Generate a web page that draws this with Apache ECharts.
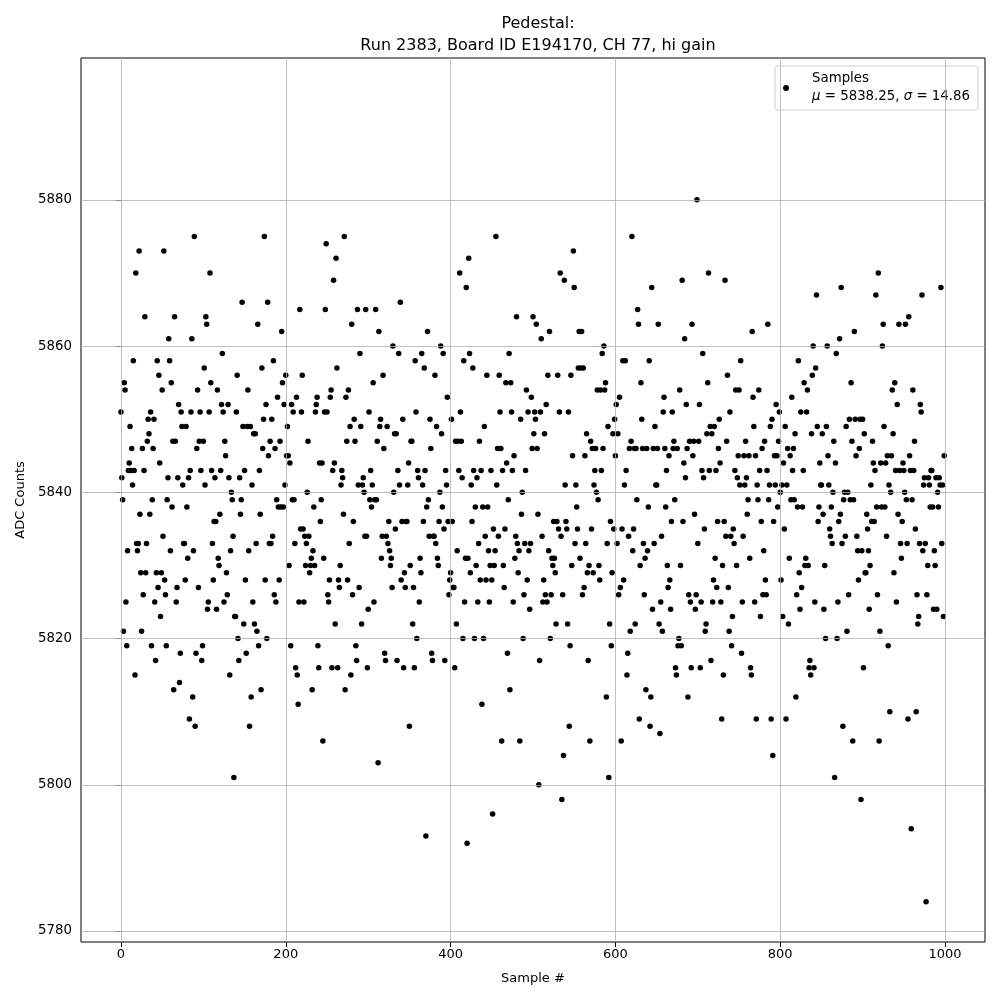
<!DOCTYPE html>
<html>
<head>
<meta charset="utf-8">
<script src="https://cdn.jsdelivr.net/npm/echarts@6/dist/echarts.min.js"></script>
<style>html,body{margin:0;padding:0;background:#fff;}#chart{width:1000px;height:1000px;}</style>
</head>
<body>
<div id="chart"></div>
<script>
const adcCounts = [
5851,5842,5839,5821,5855,5854,5825,5819,5832,5843,5844,5849,5843,5846,5841,5858,5843,5815,5870,5833,5832,5833,5873,5837,5829,
5821,5846,5826,5843,5864,5829,5833,5847,5850,5848,5837,5851,5819,5839,5846,5850,5825,5817,5829,5858,5827,5856,5844,5823,5829,
5854,5834,5873,5828,5826,5819,5839,5842,5861,5858,5832,5855,5838,5847,5813,5864,5847,5825,5827,5842,5852,5814,5818,5851,5849,
5841,5833,5833,5828,5849,5838,5831,5842,5809,5843,5851,5861,5812,5832,5875,5808,5818,5846,5854,5827,5847,5851,5843,5817,5819,
5847,5857,5841,5864,5863,5824,5825,5851,5870,5855,5843,5833,5828,5836,5842,5836,5824,5854,5831,5830,5837,5843,5852,5859,5851,
5825,5847,5845,5829,5826,5852,5842,5815,5832,5840,5839,5834,5801,5823,5823,5851,5856,5820,5817,5842,5837,5839,5866,5849,5822,
5843,5828,5818,5849,5854,5832,5808,5849,5812,5841,5825,5848,5822,5848,5833,5821,5863,5819,5843,5837,5813,5857,5846,5850,5875,
5828,5852,5820,5866,5845,5833,5847,5833,5850,5834,5858,5826,5846,5825,5839,5853,5838,5828,5847,5838,5862,5855,5838,5852,5841,
5856,5845,5849,5845,5830,5844,5819,5852,5839,5851,5839,5833,5816,5853,5815,5811,5825,5865,5835,5851,5856,5835,5825,5834,5830,
5833,5840,5847,5834,5829,5830,5831,5813,5832,5838,5830,5851,5852,5853,5819,5816,5844,5836,5839,5844,5806,5831,5851,5865,5874,
5851,5826,5825,5828,5853,5854,5816,5843,5869,5844,5822,5872,5857,5816,5828,5827,5830,5841,5843,5842,5837,5875,5813,5853,5847,
5828,5854,5833,5849,5815,5863,5826,5836,5850,5847,5819,5817,5865,5841,5827,5859,5849,5822,5841,5842,5840,5834,5865,5834,5816,
5824,5851,5839,5843,5838,5841,5855,5825,5839,5865,5839,5847,5803,5862,5849,5850,5831,5834,5856,5846,5818,5817,5834,5849,5833,
5836,5832,5830,5831,5827,5860,5840,5848,5835,5848,5817,5843,5859,5841,5866,5828,5836,5850,5816,5829,5827,5836,5836,5841,5844,
5808,5830,5847,5847,5822,5827,5816,5858,5851,5820,5843,5842,5825,5831,5829,5859,5841,5836,5857,5843,5793,5838,5862,5839,5834,
5850,5846,5818,5817,5834,5834,5856,5833,5849,5831,5830,5836,5840,5860,5848,5838,5859,5835,5817,5843,5841,5853,5836,5826,5828,
5829,5850,5836,5827,5827,5816,5847,5822,5832,5847,5843,5870,5851,5847,5842,5820,5858,5825,5831,5868,5792,5831,5872,5859,5829,
5841,5836,5857,5843,5820,5838,5830,5842,5825,5833,5847,5828,5843,5811,5838,5820,5849,5834,5828,5856,5838,5832,5825,5830,5843,
5828,5796,5835,5830,5832,5875,5841,5846,5834,5856,5851,5846,5806,5843,5830,5827,5835,5855,5844,5818,5839,5859,5813,5855,5851,
5843,5825,5845,5831,5834,5864,5833,5829,5832,5806,5850,5837,5840,5820,5826,5833,5843,5854,5828,5851,5832,5824,5833,5853,5846,
5864,5848,5851,5850,5863,5846,5837,5800,5817,5851,5861,5834,5825,5828,5848,5826,5852,5825,5856,5832,5862,5820,5826,5831,5830,
5836,5831,5829,5822,5836,5856,5835,5851,5870,5834,5798,5826,5804,5869,5841,5836,5835,5822,5851,5808,5819,5856,5830,5845,5873,
5868,5833,5841,5838,5835,5857,5862,5831,5857,5862,5826,5857,5827,5845,5833,5848,5829,5817,5830,5806,5847,5835,5846,5829,5841,
5843,5846,5840,5854,5839,5830,5828,5854,5843,5859,5846,5860,5854,5855,5812,5833,5849,5801,5822,5836,5819,5829,5848,5835,5850,
5845,5852,5833,5848,5826,5853,5827,5806,5835,5858,5828,5841,5858,5843,5815,5818,5834,5846,5821,5847,5875,5832,5835,5846,5822,
5846,5839,5865,5863,5809,5830,5855,5850,5846,5833,5826,5831,5813,5846,5832,5838,5858,5808,5812,5868,5824,5846,5833,5849,5841,
5841,5846,5863,5822,5807,5825,5834,5821,5851,5853,5846,5838,5843,5830,5827,5845,5828,5824,5836,5851,5846,5847,5839,5816,5815,
5846,5819,5820,5854,5830,5819,5869,5836,5844,5861,5842,5852,5846,5812,5826,5847,5825,5816,5863,5845,5847,5837,5824,5826,5880,
5833,5847,5852,5816,5825,5843,5859,5842,5835,5821,5822,5848,5855,5870,5843,5849,5817,5848,5825,5828,5849,5831,5843,5827,5836,
5846,5850,5844,5825,5809,5830,5815,5836,5869,5834,5847,5856,5827,5821,5851,5834,5819,5823,5835,5833,5843,5854,5830,5842,5845,
5854,5841,5858,5818,5825,5834,5845,5841,5847,5842,5837,5839,5845,5831,5816,5815,5862,5853,5849,5825,5845,5809,5841,5839,5854,
5843,5823,5836,5846,5826,5832,5847,5828,5826,5843,5863,5839,5841,5849,5809,5850,5804,5836,5845,5841,5852,5845,5838,5847,5851,
5840,5828,5841,5823,5844,5835,5849,5809,5841,5846,5822,5831,5845,5839,5853,5843,5846,5839,5848,5812,5826,5838,5858,5829,5824,
5851,5827,5838,5843,5855,5830,5831,5851,5854,5830,5816,5817,5815,5848,5856,5860,5816,5825,5857,5867,5849,5836,5838,5844,5841,
5841,5848,5837,5824,5830,5820,5849,5860,5845,5841,5835,5834,5838,5833,5840,5847,5801,5844,5859,5820,5825,5836,5861,5837,5868,
5833,5808,5839,5840,5834,5849,5821,5840,5826,5850,5839,5855,5847,5806,5839,5862,5850,5845,5834,5832,5828,5846,5850,5798,5832,
5850,5816,5848,5829,5829,5837,5835,5832,5824,5830,5841,5836,5847,5844,5836,5843,5867,5838,5826,5870,5806,5821,5844,5838,5860,
5863,5849,5838,5844,5834,5845,5819,5841,5810,5840,5845,5854,5848,5829,5855,5843,5825,5852,5837,5863,5843,5833,5831,5836,5844,
5843,5840,5863,5839,5833,5809,5864,5845,5843,5794,5839,5854,5843,5847,5835,5810,5826,5822,5823,5833,5852,5851,5867,5832,5841,
5842,5833,5784,5826,5830,5842,5841,5838,5843,5843,5838,5824,5832,5830,5842,5824,5840,5838,5842,5841,5868,5833,5841,5823,5845
];
const xTicks = [0, 200, 400, 600, 800, 1000];
const yTicks = [5780, 5800, 5820, 5840, 5860, 5880];
const seriesName = 'Samples';
const meanText = '5838.25';
const sigmaText = '14.86';

const points = adcCounts.map((v, i) => [i, v]);
const FONT = 'DejaVu Sans';

const chart = echarts.init(document.getElementById('chart'), null, {renderer: 'canvas'});
chart.setOption({
  animation: false,
  backgroundColor: '#fff',
  title: {
    text: 'Pedestal:\nRun 2383, Board ID E194170, CH 77, hi gain',
    left: 533, top: 8, textAlign: 'center',
    textStyle: {fontFamily: FONT, fontSize: 16, fontWeight: 'normal', color: '#000', lineHeight: 22}
  },
  grid: {left: 81, right: 15, top: 58, bottom: 58, show: true, borderColor: '#000', borderWidth: 1, backgroundColor: 'transparent'},
  legend: {
    data: [seriesName], right: 22, top: 66, orient: 'vertical',
    icon: 'circle', itemWidth: 24, itemHeight: 6,
    padding: [4, 8, 4, 8],
    borderColor: '#cccccc', borderWidth: 1, borderRadius: 3, backgroundColor: 'rgba(255,255,255,0.8)',
    formatter: () => seriesName + '\n{i|μ} = ' + meanText + ', {i|σ} = ' + sigmaText,
    textStyle: {fontFamily: FONT, fontSize: 13.33, color: '#000', lineHeight: 18, padding: [0, 0, 0, 9],
      rich: {i: {fontStyle: 'italic', fontFamily: FONT, fontSize: 13.33, color: '#000'}}}
  },
  xAxis: {
    type: 'value', min: -48.5, max: 1048.5,
    name: 'Sample #', nameLocation: 'middle', nameGap: 30,
    nameTextStyle: {fontFamily: FONT, fontSize: 13, color: '#000'},
    axisLine: {show: false},
    axisTick: {show: true, customValues: xTicks, length: 5, lineStyle: {color: '#000'}},
    axisLabel: {customValues: xTicks, formatter: v => String(v), fontFamily: FONT, fontSize: 13, color: '#000', margin: 6},
    splitLine: {show: false}
  },
  yAxis: {
    type: 'value', min: 5778.5, max: 5899.4,
    name: 'ADC Counts', nameLocation: 'middle', nameGap: 54, nameRotate: 90,
    nameTextStyle: {fontFamily: FONT, fontSize: 13, color: '#000'},
    axisLine: {show: false},
    axisTick: {show: true, customValues: yTicks, length: 5, lineStyle: {color: '#000'}},
    axisLabel: {customValues: yTicks, formatter: v => String(v), fontFamily: FONT, fontSize: 13.33, color: '#000', margin: 9},
    splitLine: {show: false}
  },
  series: [
    {
      type: 'scatter', data: [], z: 1, silent: true,
      markLine: {
        silent: true, symbol: ['none', 'none'], label: {show: false},
        lineStyle: {color: '#b0b0b0', width: 0.8, type: 'solid'},
        data: xTicks.map(v => ({xAxis: v})).concat(yTicks.map(v => ({yAxis: v})))
      }
    },
    {
      name: seriesName, type: 'scatter', data: points, z: 3,
      symbol: 'circle', symbolSize: 5.5,
      itemStyle: {color: '#000', opacity: 1}
    }
  ]
});
</script>
</body>
</html>
